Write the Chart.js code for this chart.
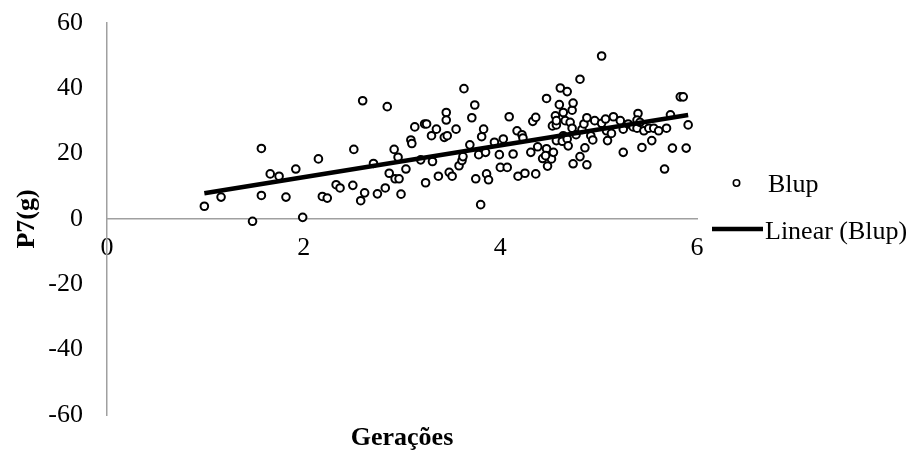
<!DOCTYPE html>
<html>
<head>
<meta charset="utf-8">
<script src="https://cdn.jsdelivr.net/npm/chart.js@4.4.1/dist/chart.umd.min.js"></script>
<style>
  html, body { margin: 0; padding: 0; background: #fff; }
  #chart { display: block; }
</style>
</head>
<body>
<canvas id="chart" width="919" height="456"></canvas>
<script>
// --- Data ---
const geracoes = [
	0.99, 1.16, 1.48, 1.57, 1.57, 1.66, 1.75, 1.82, 1.92, 1.99,
	2.15, 2.19, 2.24, 2.33, 2.37, 2.50, 2.51, 2.58, 2.60, 2.62,
	2.71, 2.75, 2.83, 2.85, 2.87, 2.92, 2.93, 2.96, 2.97, 2.99,
	3.04, 3.09, 3.10, 3.13, 3.19, 3.23, 3.25, 3.24, 3.30, 3.31,
	3.35, 3.37, 3.43, 3.46, 3.45, 3.45, 3.48, 3.51, 3.55, 3.58,
	3.61, 3.62, 3.63, 3.69, 3.71, 3.74, 3.75, 3.78, 3.80, 3.81,
	3.83, 3.85, 3.86, 3.88, 3.94, 3.99, 4.00, 4.07, 4.03, 4.09,
	4.13, 4.17, 4.18, 4.22, 4.23, 4.25, 4.31, 4.33, 4.36, 4.36,
	4.38, 4.43, 4.52, 4.47, 4.46, 4.54, 4.48, 4.47, 4.53, 4.57,
	4.56, 4.57, 4.57, 4.60, 4.61, 4.64, 4.64, 4.63, 4.66, 4.68,
	4.68, 4.69, 4.71, 4.73, 4.73, 4.74, 4.74, 4.77, 4.81, 4.81,
	4.83, 4.85, 4.86, 4.88, 4.88, 4.92, 4.94, 4.96, 5.03, 5.03,
	5.07, 5.08, 5.09, 5.13, 5.15, 5.22, 5.25, 5.25, 5.30, 5.35,
	5.39, 5.40, 5.39, 5.42, 5.44, 5.46, 5.51, 5.54, 5.56, 5.61,
	5.67, 5.69, 5.73, 5.75, 5.83, 5.86, 5.89, 5.91
];
const p7 = [
	3.9, 6.7, -0.7, 21.6, 7.2, 13.8, 13.1, 6.7, 15.3, 0.5,
	18.4, 6.9, 6.4, 10.5, 9.5, 10.3, 21.3, 5.6, 36.2, 8.0,
	17.0, 7.7, 9.5, 34.4, 14.0, 21.3, 12.3, 18.9, 12.3, 7.6,
	15.3, 24.2, 23.1, 28.2, 18.1, 29.1, 29.1, 11.1, 25.5, 17.6,
	27.5, 13.1, 25.0, 25.5, 32.6, 30.3, 14.3, 13.1, 27.5, 16.3,
	17.9, 19.1, 39.9, 22.7, 31.0, 34.9, 12.3, 19.7, 4.4, 25.2,
	27.5, 20.4, 13.8, 12.0, 23.5, 19.7, 15.8, 15.8, 24.5, 31.3,
	19.9, 27.0, 13.1, 25.8, 24.8, 14.0, 20.4, 29.9, 31.1, 13.8,
	22.1, 18.5, 18.4, 21.5, 19.4, 20.4, 16.2, 36.9, 28.5, 28.8,
	31.6, 30.1, 24.0, 35.0, 40.1, 32.6, 25.5, 23.8, 30.1, 39.0,
	24.5, 22.4, 29.6, 33.3, 27.8, 35.5, 16.9, 25.8, 42.8, 19.1,
	27.4, 29.1, 21.8, 31.0, 16.6, 25.5, 24.2, 30.1, 49.9, 29.3,
	30.6, 27.0, 24.0, 26.2, 31.3, 30.1, 27.5, 20.4, 29.1, 28.2,
	27.8, 32.3, 30.3, 29.6, 21.9, 27.0, 27.8, 24.0, 27.8, 27.0,
	15.3, 27.8, 31.9, 21.7, 37.4, 37.4, 21.7, 28.8
];
const xTicks = [0, 2, 4, 6];
const yTicks = [-60, -40, -20, 0, 20, 40, 60];

const serif = '"Liberation Serif", "Times New Roman", serif';
const axisGray = '#a0a0a0';

// --- Linear trend (least squares, like Excel's trendline) ---
const n = geracoes.length;
const mx = geracoes.reduce((a, b) => a + b, 0) / n;
const my = p7.reduce((a, b) => a + b, 0) / n;
let sxy = 0, sxx = 0;
for (let i = 0; i < n; i++) {
	sxy += (geracoes[i] - mx) * (p7[i] - my);
	sxx += (geracoes[i] - mx) * (geracoes[i] - mx);
}
const slope = sxy / sxx;
const intercept = my - slope * mx;
const xMin = Math.min(...geracoes);
const xMax = Math.max(...geracoes);
const trend = [xMin, xMax].map(x => ({ x: x, y: intercept + slope * x }));

const points = geracoes.map((x, i) => ({ x: x, y: p7[i] }));

// --- Axis title (x) and legend, drawn on the canvas ---
const extras = {
	id: 'extras',
	afterDraw(chart) {
		const ctx = chart.ctx;
		const area = chart.chartArea;
		ctx.save();
		ctx.fillStyle = '#000';
		ctx.textBaseline = 'middle';

		ctx.font = 'bold 26px ' + serif;
		ctx.textAlign = 'center';
		ctx.fillText('Gerações', (area.left + area.right) / 2, 438);

		// legend
		ctx.font = '26px ' + serif;
		ctx.textAlign = 'left';
		ctx.beginPath();
		ctx.arc(736.5, 183, 3.2, 0, Math.PI * 2);
		ctx.fillStyle = '#fff';
		ctx.fill();
		ctx.lineWidth = 1.6;
		ctx.strokeStyle = '#000';
		ctx.stroke();
		ctx.fillStyle = '#000';
		ctx.fillText('Blup', 768, 185);

		ctx.beginPath();
		ctx.moveTo(712, 229);
		ctx.lineTo(763, 229);
		ctx.lineWidth = 4.5;
		ctx.stroke();
		ctx.fillText('Linear (Blup)', 765, 232);
		ctx.restore();
	}
};

new Chart(document.getElementById('chart'), {
	type: 'scatter',
	data: {
		datasets: [
			{
				type: 'line',
				label: 'Linear (Blup)',
				data: trend,
				borderColor: '#000',
				borderWidth: 4.5,
				pointRadius: 0,
				fill: false,
				order: 0
			},
			{
				label: 'Blup',
				data: points,
				pointRadius: 3.8,
				pointBorderWidth: 2,
				pointBorderColor: '#000',
				pointBackgroundColor: '#fff',
				order: 1
			}
		]
	},
	options: {
		responsive: false,
		animation: false,
		devicePixelRatio: 1,
		layout: { padding: { left: 0, right: 222, top: 23, bottom: 41 } },
		plugins: {
			legend: { display: false },
			tooltip: { enabled: false }
		},
		scales: {
			x: {
				type: 'linear',
				position: { y: 0 },
				min: 0,
				max: 6,
				afterBuildTicks: s => { s.ticks = xTicks.map(v => ({ value: v })); },
				grid: { display: false, drawTicks: false },
				border: { display: true, color: axisGray, width: 1.5 },
				ticks: { color: '#000', padding: 14, font: { family: serif, size: 26 } }
			},
			y: {
				type: 'linear',
				min: -60,
				max: 60,
				afterBuildTicks: s => { s.ticks = yTicks.map(v => ({ value: v })); },
				afterFit: s => { s.width = 107; s.paddingTop = 0; s.paddingBottom = 0; },
				grid: { display: false, drawTicks: false },
				border: { display: true, color: axisGray, width: 1.5 },
				ticks: { color: '#000', padding: 24, font: { family: serif, size: 26 } },
				title: {
					display: true,
					text: 'P7(g)',
					color: '#000',
					padding: { top: 12, bottom: 0 },
					font: { family: serif, size: 26, weight: 'bold' }
				}
			}
		}
	},
	plugins: [extras]
});
</script>
</body>
</html>
